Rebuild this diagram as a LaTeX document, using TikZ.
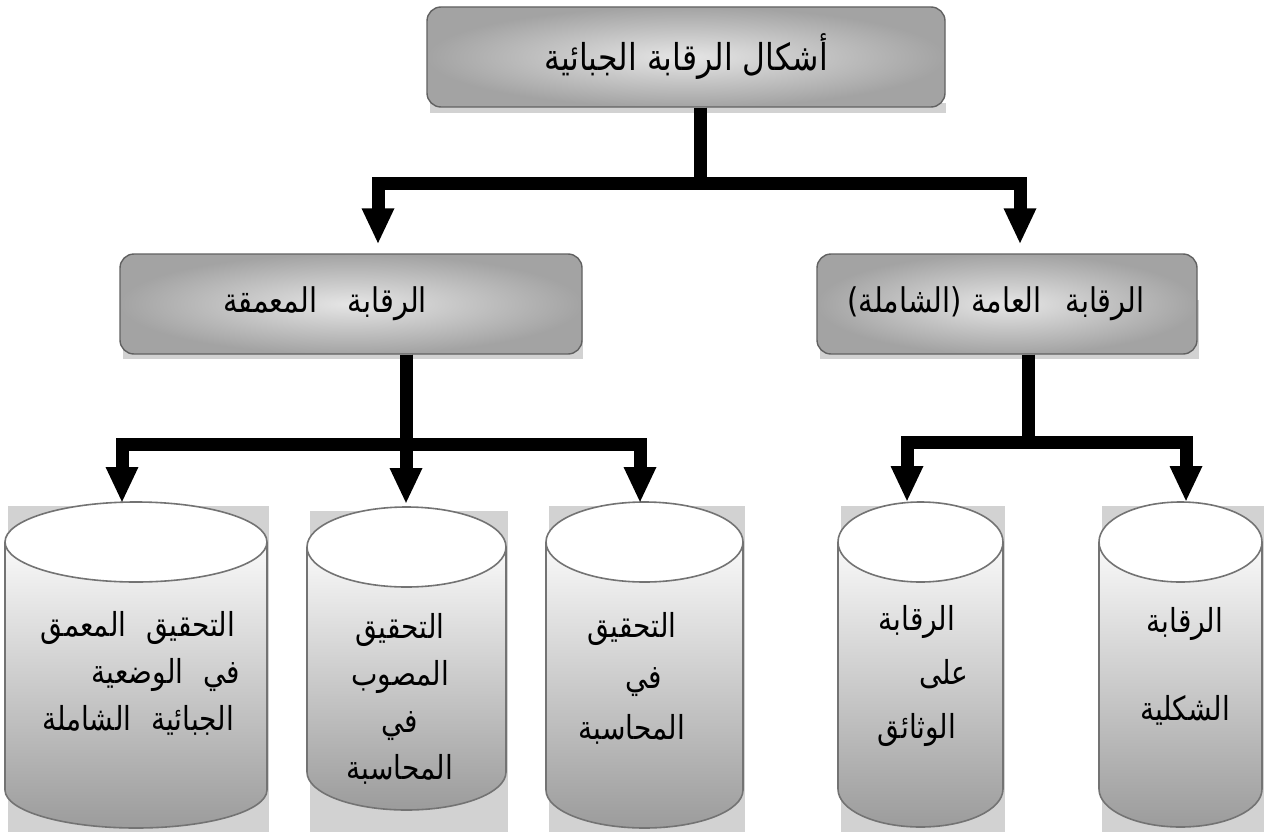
\documentclass[tikz,border=0pt]{standalone}
\usepackage{fontspec}
\newfontfamily\arabicfont[Script=Arabic, FakeStretch=0.85]{DejaVu Sans}
\TeXXeTstate=1
\usetikzlibrary{arrows.meta}

% cylinder: name, left, right, top, bottom (y grows downwards)
\newcommand\tank[5]{%
  \fill[shadowc] ({#2+3},{#4+4}) rectangle ({#3+2},832);
  \node[frame, minimum width={#3-#2}, minimum height={#5-#4}]
    (#1) at ({(#2+#3)/2},{(#4+#5)/2}) {};
  \shade[tankbody] (#2,{#4+40}) -- (#2,{#5-38})
    arc[start angle=180, end angle=0, x radius={(#3-#2)/2}, y radius=38]
    -- (#3,{#4+40}) -- cycle;
  \draw[tankline] (#2,{#4+40}) -- (#2,{#5-38})
    arc[start angle=180, end angle=0, x radius={(#3-#2)/2}, y radius=38]
    -- (#3,{#4+40});
  \filldraw[tanktop] ({(#2+#3)/2},{#4+40}) ellipse [x radius={(#3-#2)/2}, y radius=40];
}

\begin{document}
\begin{tikzpicture}[x=1pt, y=-1pt,
  shadowc/.style={fill=gray!35},
  box/.style={draw=black!62, line width=1.4pt, rounded corners=14pt,
    inner color=gray!20, outer color=gray!72, inner sep=0pt},
  boxtext/.style={font=\arabicfont\fontsize{34pt}{40pt}\selectfont, inner sep=0pt},
  frame/.style={inner sep=0pt, outer sep=0pt},
  tankbody/.style={top color=gray!4, bottom color=gray!78},
  tankline/.style={draw=black!55, line width=1.6pt},
  tanktop/.style={fill=white, draw=black!55, line width=1.6pt},
  tanktext/.style={font=\arabicfont\fontsize{33pt}{47pt}\selectfont,
    align=center, inner sep=0pt},
  conn/.style={line width=13pt, line join=miter,
    -{Triangle[width=30pt, length=36pt]}}
]
\useasboundingbox (0,0) rectangle (1265,832);
\fill[white] (0,0) rectangle (1265,832);

% ---- box shadows
\fill[shadowc] (430,113) rectangle (946,103);
\fill[shadowc] (123,359) rectangle (583,300);
\fill[shadowc] (820,359) rectangle (1199,300);

% ---- boxes
\node[box, minimum width=518pt, minimum height=100pt] (top) at (686,57) {};
\node[box, minimum width=462pt, minimum height=100pt] (deep) at (351,304) {};
\node[box, minimum width=380pt, minimum height=100pt] (gen) at (1007,304) {};

\node[boxtext, font=\arabicfont\fontsize{37pt}{40pt}\selectfont] (toplbl) at (686,57)
  {\beginR أشكال الرقابة الجبائية\endR};
\node[boxtext] (deeplbl) at (325,304) {\beginR الرقابة\hspace{0.9em}المعمقة\endR};
\node[boxtext] (genlbl) at (996,304) {\beginR الرقابة\hspace{0.7em}العامة (الشاملة)\endR};

% ---- cylinders
\tank{c1}{5}{267}{502}{828}
\tank{c2}{307}{506}{507}{810}
\tank{c3}{546}{743}{502}{828}
\tank{c4}{838}{1003}{502}{827}
\tank{c5}{1099}{1262}{502}{827}

\node[tanktext] (t1) at (138,673) {\beginR التحقيق\hspace{0.6em}المعمق\endR\\
  \hspace*{56pt}\beginR في\hspace{0.6em}الوضعية\endR\\
  \beginR الجبائية\hspace{0.6em}الشاملة\endR};
\node[tanktext] (t2) at (400,699) {\beginR التحقيق\endR\\ \beginR المصوب\endR\\
  \beginR في\endR\\ \beginR المحاسبة\endR};
\node[tanktext, font=\arabicfont\fontsize{33pt}{51pt}\selectfont] (t3) at (632,678)
  {\beginR التحقيق\endR\\ \hspace*{24pt}\beginR في\endR\\ \beginR المحاسبة\endR};
\node[tanktext, font=\arabicfont\fontsize{33pt}{54pt}\selectfont] (t4) at (917,676)
  {\beginR الرقابة\endR\\ \hspace*{54pt}\beginR على\endR\\ \beginR الوثائق\endR};
\node[tanktext, font=\arabicfont\fontsize{33pt}{88pt}\selectfont] (t5) at (1185,666)
  {\beginR الرقابة\endR\\ \beginR الشكلية\endR};

% ---- connectors
\draw[conn] ([xshift=14pt]top.south) -- ++(0,76) -| ([xshift=27pt,yshift=9pt]deep.north);
\draw[conn] ([xshift=14pt]top.south) -- ++(0,76) -| ([xshift=13pt,yshift=9pt]gen.north);

\draw[conn] ([xshift=55pt]deep.south) -- ++(0,90) -| ([xshift=-14pt,yshift=-1pt]c1.north);
\draw[conn] ([xshift=55pt]deep.south) -- ++(0,90) -| ([xshift=-0.5pt,yshift=3pt]c2.north);
\draw[conn] ([xshift=55pt]deep.south) -- ++(0,90) -| ([xshift=-4.5pt,yshift=-1pt]c3.north);

\draw[conn] ([xshift=21pt]gen.south) -- ++(0,88) -| ([xshift=-13.5pt]c4.north);
\draw[conn] ([xshift=21pt]gen.south) -- ++(0,88) -| ([xshift=5.5pt]c5.north);
\end{tikzpicture}
\end{document}
